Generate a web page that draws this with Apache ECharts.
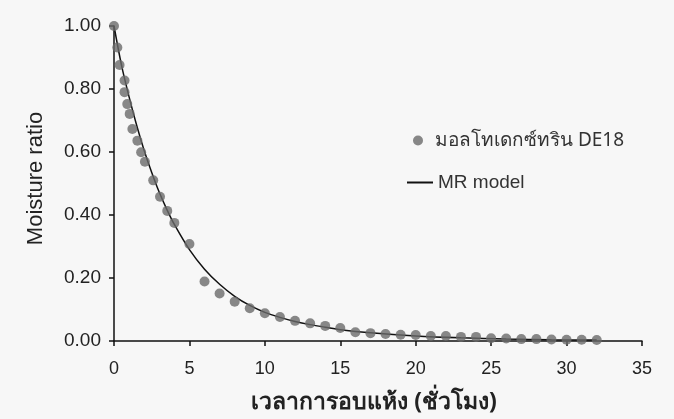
<!DOCTYPE html>
<html>
<head>
<meta charset="utf-8">
<script src="https://cdn.jsdelivr.net/npm/echarts@6/dist/echarts.min.js"></script>
<style>
  html, body { margin: 0; padding: 0; background: #f7f7f7; }
  #chart { width: 674px; height: 419px; }
</style>
</head>
<body>
<div id="chart"></div>
<script>
// Drying time (hours) and measured moisture ratio for maltodextrin DE18
const timeHours = [0, 0.22, 0.37, 0.7, 0.7, 0.88, 1.04, 1.22, 1.55, 1.8, 2.05, 2.6, 3.05, 3.53, 4.0,
  5, 6, 7, 8, 9, 10, 11, 12, 13, 14, 15, 16, 17, 18, 19, 20, 21, 22, 23, 24, 25, 26, 27, 28, 29, 30, 31, 32];
const moistureRatio = [1.0, 0.932, 0.876, 0.827, 0.790, 0.752, 0.721, 0.673, 0.636, 0.599, 0.569, 0.510, 0.458, 0.413, 0.375,
  0.308, 0.189, 0.151, 0.125, 0.104, 0.088, 0.076, 0.064, 0.056, 0.048, 0.041, 0.028, 0.025, 0.022, 0.020, 0.019,
  0.016, 0.016, 0.013, 0.013, 0.009, 0.008, 0.006, 0.006, 0.005, 0.004, 0.004, 0.003];

// Fitted MR model curve
const modelTime = [0, 0.5, 1, 1.5, 2, 2.5, 3, 3.5, 4, 5, 6, 7, 8, 9, 10, 11, 12, 13, 14, 15, 17, 20, 23, 26, 29, 32];
const modelMR = [1.0, 0.875, 0.775, 0.685, 0.605, 0.535, 0.472, 0.418, 0.37, 0.29, 0.228, 0.18, 0.142, 0.113, 0.091,
  0.075, 0.062, 0.052, 0.044, 0.036, 0.026, 0.016, 0.010, 0.006, 0.004, 0.003];

const seriesNames = ['มอลโทเดกซ์ทริน DE18', 'MR model'];
const xAxisTitle = 'เวลาการอบแห้ง (ชั่วโมง)';
const yAxisTitle = 'Moisture ratio';

const font = '"Liberation Sans", Arial, sans-serif';
const thaiFont = '"Noto Sans", "Liberation Sans", sans-serif';

const chart = echarts.init(document.getElementById('chart'), null, { renderer: 'canvas' });
chart.setOption({
  backgroundColor: '#f7f7f7',
  animation: false,
  grid: { left: 114, right: 32, top: 26, bottom: 76, containLabel: false },
  legend: [
    {
      data: [{ name: seriesNames[0], icon: 'circle' }],
      left: 408, top: 126,
      itemWidth: 10, itemHeight: 10,
      textStyle: { fontFamily: thaiFont, fontSize: 19, color: '#333', padding: [0, 0, 0, 7] }
    },
    {
      data: [{ name: seriesNames[1], icon: 'rect' }],
      left: 402, top: 168,
      itemWidth: 26, itemHeight: 2,
      textStyle: { fontFamily: font, fontSize: 19, color: '#333' }
    }
  ],
  xAxis: {
    type: 'value', min: 0, max: 35, interval: 5,
    name: xAxisTitle, nameLocation: 'middle', nameGap: 50,
    nameTextStyle: { fontFamily: thaiFont, fontSize: 23, color: '#222', fontWeight: 'bold', padding: [0, 8, 0, 0] },
    axisLine: { lineStyle: { color: '#111', width: 1.5 } },
    axisTick: { length: 5, lineStyle: { color: '#111', width: 1.5 } },
    axisLabel: { fontFamily: font, fontSize: 18, color: '#222', margin: 19 },
    splitLine: { show: false }
  },
  yAxis: {
    type: 'value', min: 0, max: 1, interval: 0.2,
    name: yAxisTitle, nameLocation: 'middle', nameGap: 67, nameRotate: 90,
    nameTextStyle: { fontFamily: font, fontSize: 22, color: '#222', padding: [0, 0, 0, 10] },
    axisLine: { show: true, lineStyle: { color: '#111', width: 1.5 } },
    axisTick: { show: true, length: 5, lineStyle: { color: '#111', width: 1.5 } },
    axisLabel: { fontFamily: font, fontSize: 19, color: '#222', margin: 13, formatter: v => v.toFixed(2) },
    splitLine: { show: false }
  },
  series: [
    {
      name: seriesNames[0], type: 'scatter',
      data: timeHours.map((t, i) => [t, moistureRatio[i]]),
      symbol: 'circle', symbolSize: 10,
      itemStyle: { color: '#6a6a6a' },
      z: 3
    },
    {
      name: seriesNames[1], type: 'line',
      data: modelTime.map((t, i) => [t, modelMR[i]]),
      smooth: 0.3, symbol: 'none', showSymbol: false,
      lineStyle: { color: '#111', width: 1.5 },
      itemStyle: { color: '#111' },
      z: 2
    }
  ]
});
</script>
</body>
</html>
